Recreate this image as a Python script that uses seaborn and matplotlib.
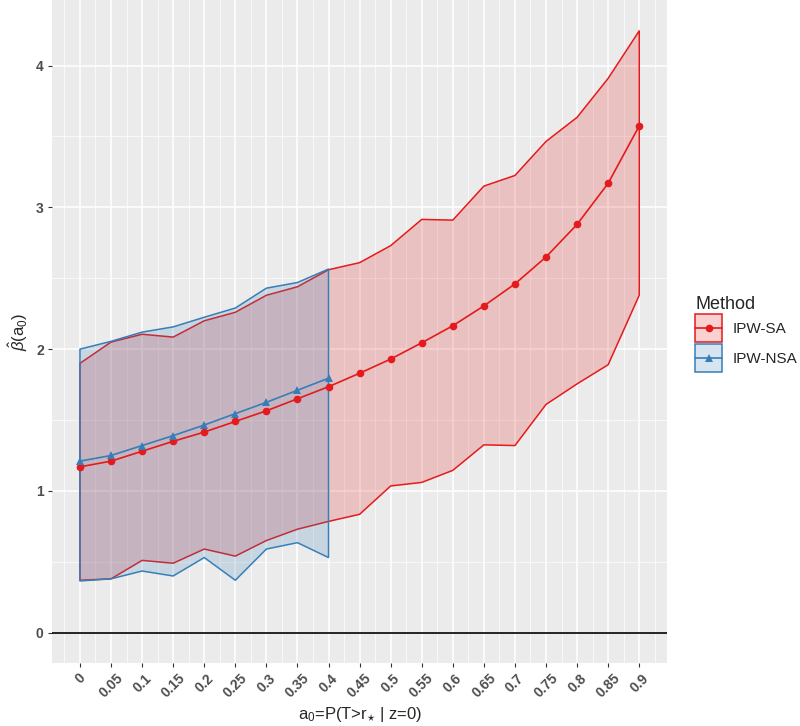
import numpy as np
import pandas as pd
import seaborn as sns
import matplotlib.pyplot as plt
from matplotlib.lines import Line2D
from matplotlib.patches import Patch
from matplotlib.legend_handler import HandlerTuple, HandlerLine2D
from matplotlib.ticker import MultipleLocator

# ------- data -------
a0 = [0, 0.05, 0.1, 0.15, 0.2, 0.25, 0.3, 0.35, 0.4, 0.45,
      0.5, 0.55, 0.6, 0.65, 0.7, 0.75, 0.8, 0.85, 0.9]

sa_est = [1.17, 1.21, 1.28, 1.35, 1.415, 1.49, 1.565, 1.65, 1.735, 1.83,
          1.93, 2.045, 2.165, 2.305, 2.46, 2.65, 2.88, 3.17, 3.575]
sa_low = [0.37, 0.38, 0.51, 0.49, 0.59, 0.54, 0.65, 0.73, 0.785, 0.835,
          1.035, 1.06, 1.145, 1.325, 1.32, 1.61, 1.755, 1.89, 2.38]
sa_up = [1.90, 2.05, 2.105, 2.085, 2.20, 2.26, 2.38, 2.44, 2.56, 2.61,
         2.73, 2.915, 2.91, 3.15, 3.225, 3.465, 3.635, 3.91, 4.245]

nsa_a0 = a0[:9]
nsa_est = [1.21, 1.25, 1.32, 1.39, 1.465, 1.545, 1.625, 1.71, 1.795]
nsa_low = [0.365, 0.38, 0.435, 0.40, 0.53, 0.37, 0.59, 0.635, 0.53]
nsa_up = [2.00, 2.055, 2.12, 2.157, 2.225, 2.29, 2.43, 2.47, 2.565]

methods = ["IPW-SA", "IPW-NSA"]
colors = {"IPW-SA": "#E41A1C", "IPW-NSA": "#377EB8"}
markers = {"IPW-SA": "o", "IPW-NSA": "^"}

df = pd.concat([
    pd.DataFrame({"a0": a0, "est": sa_est, "Method": "IPW-SA"}),
    pd.DataFrame({"a0": nsa_a0, "est": nsa_est, "Method": "IPW-NSA"}),
], ignore_index=True)


# legend line centred in its key box
class CenteredLine(HandlerLine2D):
    def create_artists(self, legend, orig_handle, xdescent, ydescent,
                       width, height, fontsize, trans):
        return super().create_artists(legend, orig_handle, xdescent, 2 * ydescent,
                                      width, height, fontsize, trans)


# ------- plot -------
sns.set_theme(style="darkgrid")
plt.rcParams["font.family"] = ["Liberation Sans", "DejaVu Sans"]
plt.rcParams["mathtext.fontset"] = "custom"
plt.rcParams["mathtext.rm"] = "Liberation Sans"
plt.rcParams["mathtext.it"] = "Liberation Sans:italic"

fig = plt.figure(figsize=(8, 7.26), dpi=100)
ax = fig.add_axes([0.065, 0.087, 0.769, 0.913])
ax.set_facecolor("#EBEBEB")

ax.fill_between(a0, sa_low, sa_up, facecolor=colors["IPW-SA"], alpha=0.2,
                edgecolor="none", zorder=2)
ax.fill_between(a0, sa_low, sa_up, facecolor="none",
                edgecolor=colors["IPW-SA"], linewidth=1.1, zorder=2)
ax.fill_between(nsa_a0, nsa_low, nsa_up, facecolor=colors["IPW-NSA"], alpha=0.2,
                edgecolor="none", zorder=3)
ax.fill_between(nsa_a0, nsa_low, nsa_up, facecolor="none",
                edgecolor=colors["IPW-NSA"], linewidth=1.1, zorder=3)

sns.lineplot(data=df, x="a0", y="est", hue="Method", style="Method",
             hue_order=methods, palette=colors, markers=markers, dashes=False,
             markersize=5.5, markeredgewidth=0, linewidth=1.2, legend=False,
             ax=ax, zorder=4)

ax.axhline(0, color="black", linewidth=1.2, zorder=3)

ax.set_xlim(-0.045, 0.945)
ax.set_ylim(-0.2125, 4.4625)
ax.set_xticks(a0)
ax.set_xticklabels([f"{v:g}" for v in a0], rotation=45, ha="center", va="top")
ax.xaxis.set_minor_locator(MultipleLocator(0.025))
ax.set_yticks([0, 1, 2, 3, 4])
ax.yaxis.set_minor_locator(MultipleLocator(0.5))

ax.grid(which="major", color="white", linewidth=1.1)
ax.grid(which="minor", color="white", linewidth=0.5)
ax.set_axisbelow(True)
for s in ax.spines.values():
    s.set_visible(False)

ax.tick_params(which="major", length=3, width=0.8, color="#333333",
               labelsize=10, labelcolor="#4D4D4D", pad=3, bottom=True, left=True)
ax.tick_params(which="minor", length=0)
for lab in ax.get_xticklabels() + ax.get_yticklabels():
    lab.set_fontweight("bold")

ax.set_xlabel(r"a$_0$=P(T>r$_{\star}$ | z=0)", fontsize=12, labelpad=4)
ax.set_ylabel(r"$\hat{\beta}$(a$_0$)", fontsize=12, labelpad=4)

handles = []
for m in methods:
    patch = Patch(facecolor=colors[m], alpha=0.2, edgecolor="none")
    edge = Patch(facecolor="none", edgecolor=colors[m], linewidth=1.1)
    line = Line2D([], [], color=colors[m], marker=markers[m], markersize=5.5,
                  markeredgewidth=0, linewidth=1.2)
    handles.append((patch, edge, line))

leg = fig.legend(handles, methods, title="Method", loc="center left",
                 bbox_to_anchor=(0.869, 0.54), frameon=False, fontsize=11,
                 title_fontsize=13,
                 handler_map={tuple: HandlerTuple(ndivide=1, pad=0),
                              Line2D: CenteredLine()},
                 handlelength=1.75, handleheight=2.45, labelspacing=0.12,
                 handletextpad=0.7, borderaxespad=0, borderpad=0)
leg._legend_box.align = "left"

fig.savefig("out.png", dpi=100)
